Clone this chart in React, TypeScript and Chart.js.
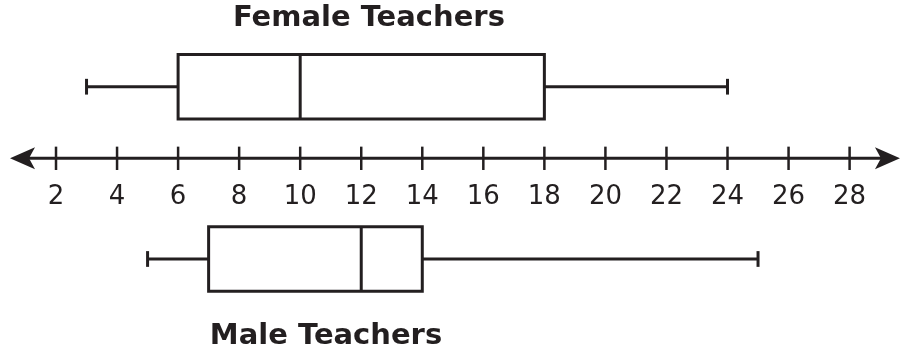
import React, { useEffect, useRef } from "react";
import { Chart, registerables } from "chart.js";

Chart.register(...registerables);

// ---- data ----
const groupNames = ["Female Teachers", "Male Teachers"];
const minimums = [3, 5];
const lowerQuartiles = [6, 7];
const medians = [10, 12];
const upperQuartiles = [18, 14];
const maximums = [24, 25];
const tickValues = [2, 4, 6, 8, 10, 12, 14, 16, 18, 20, 22, 24, 26, 28];

// ---- layout (not data) ----
const X_MIN = 0.165;
const X_MAX = 29.684;
const Y_MIN = -2.705;
const Y_MAX = 2.211;
const ROW_Y = [1, -1.406];
const BOX_HALF = 0.45;
const CAP_HALF = 0.11;
const TICK_HALF = 0.163;
const ARROW_LEFT = 0.493;
const ARROW_RIGHT = 29.65;
const INK = "#231f20";

type P = { x: number; y: number };

function seg(points: P[], cap: "butt" | "square" = "butt") {
  return {
    data: points,
    showLine: true,
    borderColor: INK,
    backgroundColor: INK,
    borderWidth: 3,
    pointRadius: 0,
    pointHoverRadius: 0,
    fill: false,
    tension: 0,
    borderJoinStyle: "miter" as const,
    borderCapStyle: cap,
  };
}

function buildDatasets() {
  const ds: any[] = [];
  // number line
  ds.push(seg([{ x: ARROW_LEFT + 0.5, y: 0 }, { x: ARROW_RIGHT - 0.5, y: 0 }]));
  // tick marks
  tickValues.forEach((v) => {
    ds.push({ ...seg([{ x: v, y: -TICK_HALF }, { x: v, y: TICK_HALF }]), borderWidth: 2.5 });
  });
  groupNames.forEach((_, i) => {
    const r = ROW_Y[i];
    const lo = lowerQuartiles[i];
    const hi = upperQuartiles[i];
    // box
    ds.push(
      seg(
        [
          { x: lo, y: r - BOX_HALF },
          { x: hi, y: r - BOX_HALF },
          { x: hi, y: r + BOX_HALF },
          { x: lo, y: r + BOX_HALF },
          { x: lo, y: r - BOX_HALF },
        ],
        "square"
      )
    );
    // median
    ds.push(seg([{ x: medians[i], y: r - BOX_HALF }, { x: medians[i], y: r + BOX_HALF }]));
    // whiskers
    ds.push(seg([{ x: minimums[i], y: r }, { x: lo, y: r }]));
    ds.push(seg([{ x: hi, y: r }, { x: maximums[i], y: r }]));
    // caps
    ds.push(seg([{ x: minimums[i], y: r - CAP_HALF }, { x: minimums[i], y: r + CAP_HALF }]));
    ds.push(seg([{ x: maximums[i], y: r - CAP_HALF }, { x: maximums[i], y: r + CAP_HALF }]));
  });
  return ds;
}

const arrowPlugin = {
  id: "arrowHeads",
  afterDatasetsDraw(chart: any) {
    const xs = chart.scales.x;
    const ys = chart.scales.y;
    const y0 = ys.getPixelForValue(0);
    const ctx = chart.ctx;
    const draw = (tipVal: number, dir: number) => {
      const tx = xs.getPixelForValue(tipVal);
      ctx.save();
      ctx.fillStyle = INK;
      ctx.beginPath();
      ctx.moveTo(tx, y0);
      ctx.lineTo(tx + dir * 25, y0 - 11);
      ctx.lineTo(tx + dir * 19, y0);
      ctx.lineTo(tx + dir * 25, y0 + 11);
      ctx.closePath();
      ctx.fill();
      ctx.restore();
    };
    draw(ARROW_LEFT, 1);
    draw(ARROW_RIGHT, -1);
  },
};

const titleStyle = (cx: number, top: number): React.CSSProperties => ({
  position: "absolute",
  left: cx,
  top,
  transform: "translateX(-50%)",
  fontFamily: "'DejaVu Sans', Verdana, sans-serif",
  fontWeight: "bold",
  fontSize: 29,
  lineHeight: "29px",
  color: INK,
  whiteSpace: "nowrap",
});

export default function App() {
  const ref = useRef<HTMLCanvasElement>(null);
  useEffect(() => {
    if (!ref.current) return;
    const chart = new Chart(ref.current, {
      type: "scatter",
      data: { datasets: buildDatasets() },
      options: {
        responsive: false,
        animation: false,
        events: [],
        layout: { padding: 0 },
        plugins: { legend: { display: false }, tooltip: { enabled: false }, title: { display: false } },
        scales: {
          x: {
            type: "linear",
            min: X_MIN,
            max: X_MAX,
            position: { y: 0 } as any,
            afterBuildTicks: (s: any) => {
              s.ticks = tickValues.map((v) => ({ value: v }));
            },
            grid: { display: false, drawTicks: false },
            border: { display: false },
            ticks: {
              padding: 23,
              color: INK,
              autoSkip: false,
              maxRotation: 0,
              font: { family: "'DejaVu Sans', Verdana, sans-serif", size: 26 },
              callback: (v: any) => String(v),
            },
          },
          y: { type: "linear", min: Y_MIN, max: Y_MAX, display: false },
        },
      },
      plugins: [arrowPlugin],
    });
    return () => chart.destroy();
  }, []);
  return (
    <div style={{ position: "fixed", left: 0, top: 0, width: 901, height: 352, background: "#fff" }}>
      <canvas ref={ref} width={901} height={352} style={{ display: "block" }} />
      <div style={titleStyle(368.9, 2.2)}>{groupNames[0]}</div>
      <div style={titleStyle(326, 319.8)}>{groupNames[1]}</div>
    </div>
  );
}
